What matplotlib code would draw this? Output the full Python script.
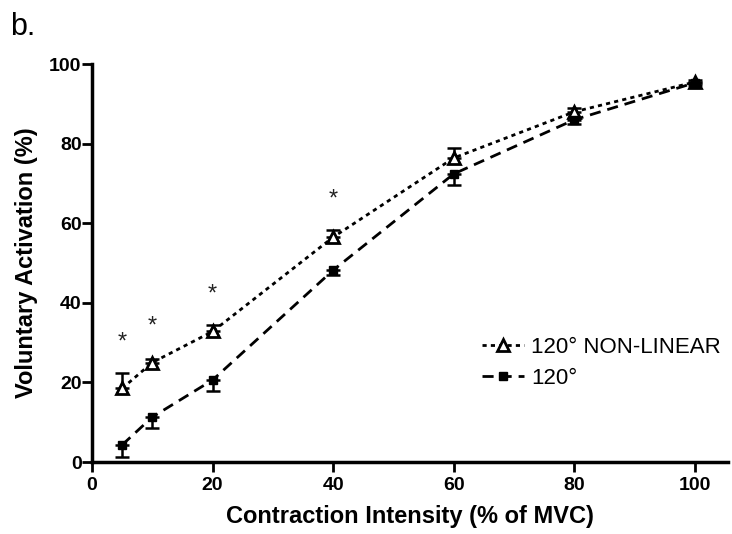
import matplotlib.pyplot as plt

plt.rcParams['font.family'] = ['Liberation Sans', 'DejaVu Sans']

intensity = [5, 10, 20, 40, 60, 80, 100]
nonlinear_mean = [18.5, 25.0, 32.8, 56.5, 76.4, 88.0, 95.5]
nonlinear_err = [3.8, 1.0, 1.7, 1.8, 2.5, 1.0, 0.5]
linear_mean = [4.3, 11.3, 20.6, 48.2, 72.4, 86.0, 95.3]
linear_err = [3.0, 2.7, 2.7, 1.2, 2.8, 1.0, 0.5]
star_x = [5, 10, 20, 40]
star_y = [30, 34, 42, 66]

fig = plt.figure(figsize=(7.32, 5.34), dpi=100)
ax = fig.add_axes([0.1257, 0.1348, 0.8688, 0.7452])

zeros = [0] * len(intensity)
ax.errorbar(intensity, nonlinear_mean, yerr=[zeros, nonlinear_err],
            fmt='none', ecolor='black', elinewidth=1.8, capsize=5, capthick=1.8)
ax.errorbar(intensity, linear_mean, yerr=[linear_err, zeros],
            fmt='none', ecolor='black', elinewidth=1.8, capsize=5, capthick=1.8)

ax.plot(intensity, nonlinear_mean, color='black', linewidth=2, dashes=(1.5, 1.5),
        marker='^', markersize=9, markerfacecolor='white', markeredgewidth=2,
        label='120° NON-LINEAR')
ax.plot(intensity, linear_mean, color='black', linewidth=2, dashes=(4, 2.5),
        marker='s', markersize=6, label='120°')

for sx, sy in zip(star_x, star_y):
    ax.text(sx, sy, '*', ha='center', va='center', fontsize=17, color='#222222')

ax.set_xlim(0, 105.5)
ax.set_ylim(0, 100)
ax.set_xticks([0, 20, 40, 60, 80, 100])
ax.set_yticks([0, 20, 40, 60, 80, 100])
for lbl in ax.get_xticklabels() + ax.get_yticklabels():
    lbl.set_fontweight('bold')
ax.tick_params(labelsize=14, width=2, length=7, color='black')
ax.tick_params(axis='y', pad=0.5)
ax.tick_params(axis='x', pad=4)
for side in ['top', 'right']:
    ax.spines[side].set_visible(False)
for side in ['left', 'bottom']:
    ax.spines[side].set_linewidth(2.5)

ax.set_xlabel('Contraction Intensity (% of MVC)', fontsize=17, fontweight='bold', labelpad=8)
ax.set_ylabel('Voluntary Activation (%)', fontsize=17, fontweight='bold', labelpad=8)

ax.legend(loc='center right', bbox_to_anchor=(1.02, 0.25), frameon=False, fontsize=16,
          handlelength=1.9, handletextpad=0.3, labelspacing=0.45)

fig.text(0.014, 0.95, 'b.', fontsize=22, ha='left', va='center')

fig.savefig('out.png', dpi=100)
